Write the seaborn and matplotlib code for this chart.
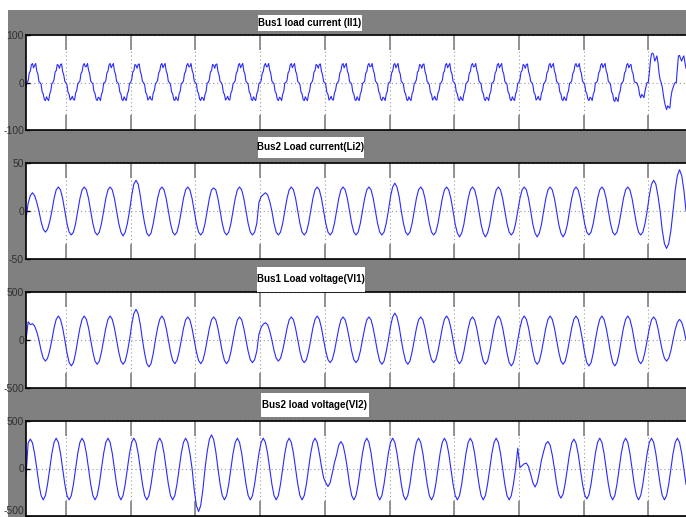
import numpy as np
import matplotlib
matplotlib.use('Agg')
import matplotlib.pyplot as plt
from matplotlib.patches import Rectangle
from matplotlib.ticker import MultipleLocator
import seaborn as sns

# time base of the scope window (s)
T_START = 0.0191
SPAN = 0.51
PERIOD = 0.02

titles = ['Bus1 load current (Il1)', 'Bus2 Load current(Li2)',
          'Bus1 Load voltage(Vl1)', 'Bus2 load voltage(Vl2)']
y_limits = [100, 50, 500, 500]

# Bus1 load current, 24 samples per cycle (one line = one cycle)
bus1_current = [
    -10,
    0, 4, 20, 24, 37, 40, 31, 36, 40, 24, 18, 2, 0, -4, -20, -24, -36, -38, -30, -35, -38, -24, -18, -2,
    0, 6, 22, 25, 38, 36, 30, 38, 39, 23, 16, 2, 0, -5, -21, -25, -37, -34, -29, -36, -37, -22, -17, -3,
    0, 3, 19, 23, 36, 40, 33, 34, 40, 26, 19, 3, 0, -3, -19, -23, -35, -38, -31, -33, -38, -25, -19, -1,
    0, 4, 20, 24, 37, 40, 31, 36, 40, 24, 18, 2, 0, -4, -20, -24, -36, -38, -30, -35, -38, -24, -18, -2,
    0, 6, 22, 25, 38, 36, 30, 38, 39, 23, 16, 2, 0, -5, -21, -25, -37, -34, -29, -36, -37, -22, -17, -3,
    0, 4, 20, 24, 37, 40, 31, 36, 40, 24, 18, 2, 0, -4, -20, -24, -36, -38, -30, -35, -38, -24, -18, -2,
    0, 3, 19, 23, 36, 40, 33, 34, 40, 26, 19, 3, 0, -3, -19, -23, -35, -38, -31, -33, -38, -25, -19, -1,
    0, 6, 22, 25, 38, 36, 30, 38, 39, 23, 16, 2, 0, -5, -21, -25, -37, -34, -29, -36, -37, -22, -17, -3,
    0, 4, 20, 24, 37, 40, 31, 36, 40, 24, 18, 2, 0, -4, -20, -24, -36, -38, -30, -35, -38, -24, -18, -2,
    0, 3, 19, 23, 36, 40, 33, 34, 40, 26, 19, 3, 0, -3, -19, -23, -35, -38, -31, -33, -38, -25, -19, -1,
    0, 4, 20, 24, 37, 40, 31, 36, 40, 24, 18, 2, 0, -4, -20, -24, -36, -38, -30, -35, -38, -24, -18, -2,
    0, 6, 22, 25, 38, 36, 30, 38, 39, 23, 16, 2, 0, -5, -21, -25, -37, -34, -29, -36, -37, -22, -17, -3,
    0, 4, 20, 24, 37, 40, 31, 36, 40, 24, 18, 2, 0, -4, -20, -24, -36, -38, -30, -35, -38, -24, -18, -2,
    0, 3, 19, 23, 36, 40, 33, 34, 40, 26, 19, 3, 0, -3, -19, -23, -35, -38, -31, -33, -38, -25, -19, -1,
    0, 4, 20, 24, 37, 40, 31, 36, 40, 24, 18, 2, 0, -4, -20, -24, -36, -38, -30, -35, -38, -24, -18, -2,
    0, 6, 22, 25, 38, 36, 30, 38, 39, 23, 16, 2, 0, -5, -21, -25, -37, -34, -29, -36, -37, -22, -17, -3,
    0, 4, 20, 24, 37, 40, 31, 36, 40, 24, 18, 2, 0, -4, -20, -24, -36, -38, -30, -35, -38, -24, -18, -2,
    0, 3, 19, 23, 36, 40, 33, 34, 40, 26, 19, 3, 0, -3, -19, -23, -35, -38, -31, -33, -38, -25, -19, -1,
    0, 4, 20, 24, 37, 40, 31, 36, 40, 24, 18, 2, 0, -4, -20, -24, -36, -38, -30, -35, -38, -24, -18, -2,
    0, 6, 22, 25, 38, 36, 30, 38, 39, 23, 16, 2, 0, -5, -21, -25, -37, -34, -29, -36, -37, -22, -17, -3,
    0, 4, 20, 24, 37, 40, 31, 36, 40, 24, 18, 2, 0, -4, -20, -24, -36, -38, -30, -35, -38, -24, -18, -2,
    0, 3, 19, 23, 36, 40, 33, 34, 40, 26, 19, 3, 0, -3, -19, -23, -35, -38, -31, -33, -38, -25, -19, -1,
    0, 4, 20, 24, 37, 40, 31, 36, 40, 24, 18, 2, 0, -4, -20, -24, -37, -40, -31, -36, -40, -24, -18, -2,
    0, 4, 20, 24, 37, 40, 31, 36, 38, 24, 18, 2, 0, 0, -4, -11, -26, -32, -25, -28, -32, -18, -8, 0,
    0, 20, 45, 60, 62, 58, 45, 50, 56, 42, 20, 6, 0, -10, -26, -40, -50, -57, -49, -52, -54, -32, -18, -11,
    -4, 0, 0, 30, 56, 57, 50, 45, 52, 56, 42, 30,
]

# Bus2 load current, 12 samples per cycle
bus2_current = [
    -8, 8, 16, 19, 16, 9, 0, -11, -19, -22, -19, -11,
    0, 13, 22, 25, 22, 13, 0, -13, -22, -25, -22, -13,
    0, 13, 22, 25, 22, 13, 0, -13, -22, -25, -22, -13,
    0, 13, 22, 25, 22, 13, 0, -13, -22, -26, -22, -13,
    0, 16, 28, 32, 28, 16, 0, -13, -23, -26, -23, -13,
    0, 13, 22, 25, 22, 13, 0, -13, -22, -25, -22, -13,
    0, 13, 22, 25, 22, 13, 0, -13, -22, -25, -22, -13,
    0, 13, 22, 24, 22, 13, 0, -13, -22, -25, -22, -13,
    0, 13, 22, 25, 22, 13, 0, -13, -22, -25, -22, -13,
    9, 15, 17, 19, 17, 10, 0, -13, -22, -25, -22, -13,
    0, 13, 22, 25, 22, 13, 0, -13, -22, -25, -22, -13,
    0, 13, 22, 25, 22, 13, 0, -13, -22, -25, -22, -13,
    0, 13, 22, 25, 22, 13, 0, -13, -22, -25, -22, -13,
    0, 13, 22, 25, 22, 13, 0, -13, -22, -25, -22, -13,
    0, 15, 25, 29, 25, 15, 0, -13, -22, -25, -22, -13,
    0, 13, 22, 25, 22, 13, 0, -13, -22, -25, -22, -13,
    0, 13, 22, 25, 22, 13, 0, -14, -23, -27, -23, -14,
    0, 13, 22, 25, 22, 13, 0, -14, -23, -27, -23, -14,
    0, 13, 22, 25, 22, 13, 0, -13, -22, -25, -22, -13,
    0, 13, 22, 25, 22, 13, 0, -14, -23, -27, -23, -14,
    0, 13, 22, 25, 22, 13, 0, -14, -23, -27, -23, -14,
    0, 13, 22, 25, 22, 13, 0, -13, -22, -25, -22, -13,
    0, 13, 22, 25, 22, 13, 0, -13, -22, -25, -22, -13,
    0, 13, 22, 25, 22, 13, 0, -13, -22, -25, -22, -13,
    0, 16, 28, 32, 28, 16, 0, -20, -34, -39, -34, -20,
    0, 22, 37, 43, 37, 22, 0,
]

# Bus1 load voltage, 12 samples per cycle
bus1_voltage = [
    0, 190, 160, 170, 145, 85, 0, -110, -190, -220, -190, -110,
    0, 125, 215, 250, 215, 125, 0, -135, -235, -270, -235, -135,
    0, 125, 215, 250, 215, 125, 0, -125, -220, -253, -220, -125,
    0, 125, 215, 250, 215, 125, 0, -125, -220, -253, -220, -125,
    0, 160, 275, 320, 275, 160, 0, -140, -245, -280, -245, -140,
    0, 125, 215, 250, 215, 125, 0, -123, -213, -247, -213, -123,
    0, 120, 210, 240, 210, 120, 0, -123, -213, -247, -213, -123,
    0, 120, 210, 240, 210, 120, 0, -123, -213, -247, -213, -123,
    0, 120, 210, 240, 210, 120, 0, -118, -205, -236, -205, -118,
    60, 130, 165, 180, 160, 95, 0, -110, -190, -220, -190, -110,
    0, 120, 210, 240, 210, 120, 0, -118, -205, -236, -205, -118,
    0, 125, 215, 250, 215, 125, 0, -118, -205, -236, -205, -118,
    0, 120, 210, 240, 210, 120, 0, -118, -205, -236, -205, -118,
    0, 120, 210, 240, 210, 120, 0, -125, -220, -253, -220, -125,
    0, 140, 240, 280, 240, 140, 0, -125, -220, -253, -220, -125,
    0, 120, 210, 240, 210, 120, 0, -118, -205, -236, -205, -118,
    0, 125, 215, 250, 215, 125, 0, -123, -213, -247, -213, -123,
    0, 120, 210, 240, 210, 120, 0, -125, -220, -253, -220, -125,
    0, 125, 215, 250, 215, 125, 0, -135, -235, -270, -235, -135,
    0, 125, 215, 250, 215, 125, 0, -125, -220, -253, -220, -125,
    0, 125, 215, 250, 215, 125, 0, -125, -220, -253, -220, -125,
    0, 125, 215, 250, 215, 125, 0, -135, -235, -270, -235, -135,
    0, 125, 215, 250, 215, 125, 0, -135, -235, -270, -235, -135,
    0, 125, 215, 250, 215, 125, 0, -123, -213, -247, -213, -123,
    0, 120, 210, 240, 210, 120, 0, -110, -190, -220, -190, -110,
    0, 110, 185, 215, 185, 110, 0,
]

# Bus2 load voltage, 12 samples per cycle
bus2_voltage = [
    -80, 270, 310, 270, 155, 0, -165, -285, -330, -285, -165, 0,
    160, 275, 319, 275, 160, 0, -165, -285, -330, -285, -165, 0,
    160, 275, 319, 275, 160, 0, -165, -285, -330, -285, -165, 0,
    160, 275, 319, 275, 160, 0, -165, -285, -330, -285, -165, 0,
    160, 275, 319, 275, 160, 0, -165, -285, -330, -285, -165, 0,
    160, 275, 319, 275, 160, 0, -165, -285, -330, -285, -165, 0,
    160, 275, 319, 275, 160, 0, -225, -390, -453, -390, -225, 0,
    177, 306, 354, 306, 177, 0, -165, -285, -330, -285, -165, 0,
    160, 275, 319, 275, 160, 0, -165, -285, -330, -285, -165, 0,
    160, 275, 319, 275, 160, 0, -165, -285, -330, -285, -165, 0,
    160, 275, 319, 275, 160, 0, -165, -285, -330, -285, -165, 0,
    160, 275, 319, 275, 160, 20, -100, -150, -190, -150, -50, 60,
    142, 247, 284, 247, 142, 0, -165, -285, -330, -285, -165, 0,
    160, 275, 319, 275, 160, 0, -165, -285, -330, -285, -165, 0,
    160, 275, 319, 275, 160, 0, -165, -285, -330, -285, -165, 0,
    160, 275, 319, 275, 160, 0, -165, -285, -330, -285, -165, 0,
    160, 275, 319, 275, 160, 0, -165, -285, -330, -285, -165, 0,
    160, 275, 319, 275, 160, 0, -165, -285, -330, -285, -165, 0,
    160, 275, 319, 275, 160, 0, -165, -285, -330, -285, -165, 0,
    214, 10, 30, 50, 56, 20, -60, -150, -195, -150, -40, 90,
    180, 260, 284, 247, 142, 0, -156, -271, -312, -271, -156, 0,
    155, 268, 309, 268, 155, 0, -160, -277, -320, -277, -160, 0,
    160, 275, 319, 275, 160, 0, -165, -285, -330, -285, -165, 0,
    160, 275, 319, 275, 160, 0, -165, -285, -330, -285, -165, 0,
    160, 275, 319, 275, 160, 0, -165, -285, -330, -285, -165, 0,
    160, 275, 319, 275, 160, 0, -165,
]

signals = [bus1_current, bus2_current, bus1_voltage, bus2_voltage]
samples_per_cycle = [24, 12, 12, 12]

plt.rcParams['font.family'] = ['Liberation Sans Narrow', 'Liberation Sans', 'DejaVu Sans']
plt.rcParams['axes.unicode_minus'] = False

W, H = 686, 517
fig = plt.figure(figsize=(W / 100, H / 100), dpi=100)
fig.add_artist(Rectangle((8 / W, 0), 1 - 8 / W, 1 - 10 / H, transform=fig.transFigure,
                         facecolor='#808080', edgecolor='none', zorder=-10))

# axes top/bottom and title box (x0, x1, y0, y1) in pixels
axes_rows = [(35, 130), (163, 259), (292, 388), (421, 516)]
title_boxes = [(258, 362, 15, 31), (258, 364, 137, 158), (257, 365, 267, 292), (261, 369, 393, 417)]

for i, (sig, spc, lim, title, (top, bot), (x0, x1, y0, y1)) in enumerate(zip(
        signals, samples_per_cycle, y_limits, titles, axes_rows, title_boxes)):
    ax = fig.add_axes([26 / W, 1 - bot / H, 660 / W, (bot - top) / H])
    ax.set_facecolor('white')
    t = T_START + np.arange(len(sig)) * PERIOD / spc
    sns.lineplot(x=t, y=sig, ax=ax, color='#2a2aff', linewidth=0.8, estimator=None, sort=False)
    ax.set_xlim(T_START, T_START + SPAN)
    ax.set_ylim(-lim, lim)
    ax.set_yticks([-lim, 0, lim])
    ax.xaxis.set_major_locator(MultipleLocator(0.05))
    ax.tick_params(axis='x', direction='in', length=11, width=1.3, color='#8a8a8a',
                   top=True, bottom=True, labelbottom=False)
    ax.tick_params(axis='y', direction='in', length=3, width=1.0, color='black',
                   labelsize=7.5, labelcolor='#303030', pad=1.5)
    ax.grid(True, linestyle=(0, (1, 2.5)), color='#9a9a9a', linewidth=0.8)
    ax.set_xlabel('')
    ax.set_ylabel('')
    ax.spines['right'].set_visible(False)
    for s in ['top', 'left', 'bottom']:
        ax.spines[s].set_color('black')
        ax.spines[s].set_linewidth(1.2)
    if i == len(signals) - 1:
        # keep the lowest label inside the picture
        ax.get_yticklabels()[0].set_verticalalignment('bottom')

    fig.add_artist(Rectangle((x0 / W, 1 - y1 / H), (x1 - x0) / W, (y1 - y0) / H,
                             transform=fig.transFigure, facecolor='white', edgecolor='none', zorder=5))
    fig.text((x0 + x1) / 2 / W, 1 - (y0 + y1) / 2 / H, title, ha='center', va='center',
             fontsize=7.0, fontweight='bold', color='black', zorder=6)

fig.savefig('out.png', dpi=100)
